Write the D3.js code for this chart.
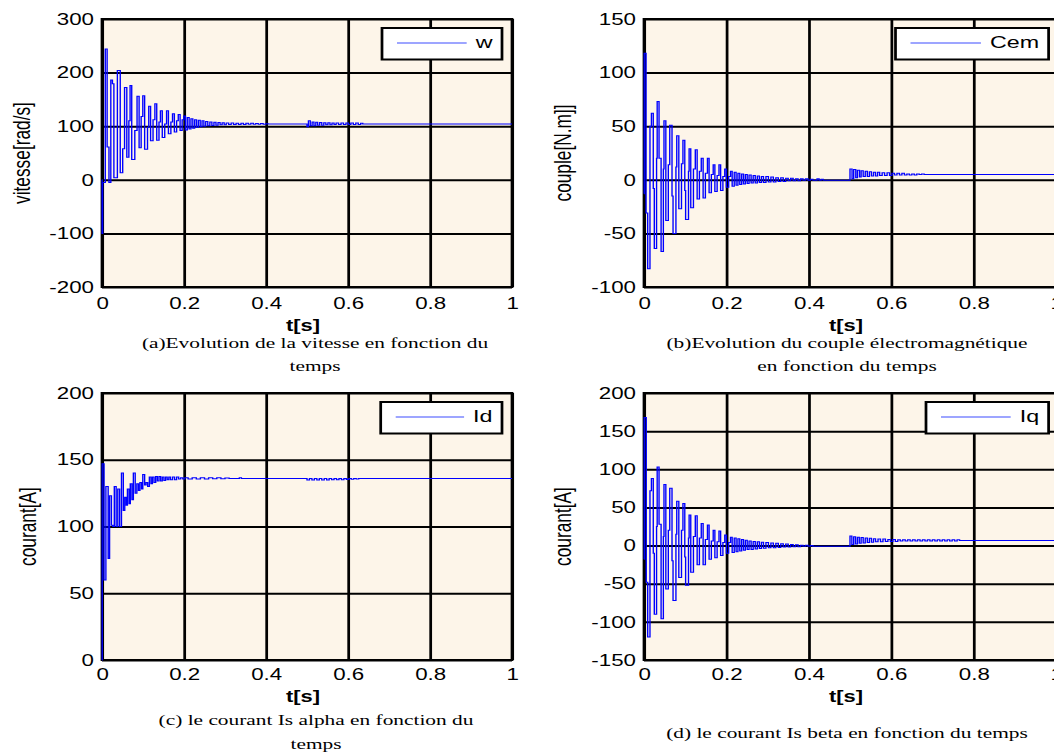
<!DOCTYPE html>
<html>
<head>
<meta charset="utf-8">
<script src="https://cdn.jsdelivr.net/npm/d3@7"></script>
<style>
  html, body { margin: 0; padding: 0; background: #fff; }
  svg { display: block; }
  text { font-family: "Liberation Sans", Arial, Helvetica, sans-serif; fill: #000; }
  text.cap { font-family: "Liberation Serif", "Times New Roman", serif; }
</style>
</head>
<body>
<svg id="chart" width="1054" height="755"></svg>
<script>
// ---- axis ticks ----
const timeTicks = [0, 0.2, 0.4, 0.6, 0.8, 1];
const speedTicks = [-200, -100, 0, 100, 200, 300];
const torqueTicks = [-100, -50, 0, 50, 100, 150];
const idTicks = [0, 50, 100, 150, 200];
const iqTicks = [-150, -100, -50, 0, 50, 100, 150, 200];

// ---- simulated signals: [t (s), value], each value held until the next sample ----
const speed = [[0,0],[0.0003,-100],[0.0015,-5],[0.008,244],[0.0125,61],[0.017,-5],[0.0215,186],[0.0255,179],[0.029,4],[0.0375,204],[0.0445,13],[0.0505,58],[0.055,172],[0.0605,42],[0.0655,110],[0.0685,176],[0.0725,38],[0.080,92],[0.0855,156],[0.0905,60],[0.0955,118],[0.0995,157],[0.104,57],[0.111,98],[0.114,137],[0.1185,73],[0.1245,112],[0.129,142],[0.1335,74],[0.139,108],[0.1425,129],[0.147,79],[0.153,104],[0.1575,129],[0.162,86],[0.168,108],[0.172,123],[0.1765,89],[0.182,110],[0.186,122],[0.1905,92],[0.1955,112],[0.1995,119],[0.2035,93],[0.208,116],[0.2125,95],[0.217,114],[0.2215,96],[0.226,112],[0.2305,98],[0.235,111],[0.2395,99],[0.244,110],[0.2485,100],[0.253,109],[0.258,101],[0.263,108],[0.268,101.5],[0.273,107.5],[0.278,102],[0.283,107],[0.288,102.5],[0.293,106.5],[0.298,102.5],[0.303,106],[0.309,103],[0.315,106],[0.321,103],[0.327,105.5],[0.333,103],[0.339,105.5],[0.345,103],[0.351,105.5],[0.357,103.5],[0.363,105.5],[0.369,103.5],[0.375,105],[0.381,103.5],[0.387,105],[0.393,103.5],[0.399,104.5],[0.405,104],[0.5,99],[0.5035,110],[0.508,101],[0.5125,108],[0.517,101],[0.5215,107.5],[0.526,102],[0.531,107],[0.536,102],[0.541,106.5],[0.546,102.5],[0.551,106.5],[0.556,102.5],[0.561,106],[0.566,103],[0.571,106],[0.577,103],[0.583,106],[0.589,103],[0.595,106],[0.601,103],[0.607,106],[0.613,103],[0.619,106],[0.625,103],[0.631,105.5],[0.636,104],[1,104]];

const torque = [[0,-13],[0.0006,118],[0.005,-31],[0.009,-83],[0.0145,50],[0.018,62],[0.0225,-8],[0.025,-64],[0.0305,20],[0.032,73],[0.0365,20],[0.0415,-67],[0.047,10],[0.0485,55],[0.053,-38],[0.059,14],[0.0625,51],[0.068,-15],[0.0705,-50],[0.0775,12],[0.0795,41],[0.0845,-27],[0.091,15],[0.0945,37],[0.099,-10],[0.101,-37],[0.108,8],[0.1095,29],[0.1135,-26],[0.12,10],[0.1245,28],[0.129,-18],[0.1345,8],[0.139,20],[0.1435,-17],[0.149,6],[0.154,20],[0.158,-12],[0.1635,5],[0.168,14],[0.172,-11],[0.1775,4],[0.182,14],[0.186,-10],[0.1915,3],[0.196,10],[0.2,-7],[0.2055,3],[0.21,8],[0.214,-6],[0.219,7],[0.2235,-5],[0.228,6],[0.2325,-4.5],[0.237,5.5],[0.2415,-4],[0.246,5],[0.2505,-3.5],[0.255,4.5],[0.26,-3],[0.265,4],[0.27,-3],[0.275,3.5],[0.28,-2.5],[0.285,3],[0.29,-2.5],[0.296,3],[0.302,-2],[0.308,2.5],[0.314,-2],[0.32,2],[0.326,-1.5],[0.332,2],[0.338,-1.5],[0.344,1.5],[0.35,-1],[0.356,1.5],[0.362,-1],[0.368,1],[0.374,-1],[0.38,1],[0.386,-0.5],[0.392,1],[0.398,-0.5],[0.404,0.5],[0.41,-0.5],[0.42,1],[0.425,-0.5],[0.43,0.5],[0.435,-0.5],[0.5,10],[0.505,1],[0.509,9.5],[0.514,2],[0.518,9],[0.523,2.5],[0.527,8.5],[0.532,3],[0.537,8],[0.542,3],[0.547,7.5],[0.552,3.5],[0.557,7],[0.562,3.5],[0.567,7],[0.572,4],[0.578,6.5],[0.584,4],[0.59,6.5],[0.596,4],[0.602,6],[0.608,4.5],[0.614,6],[0.62,4.5],[0.626,6],[0.632,4.5],[0.638,5.5],[0.644,4.5],[0.65,5.5],[0.656,4.5],[0.662,5.5],[0.668,5],[0.674,5.5],[0.68,5],[1,5]];

const currentD = [[0,0],[0.0005,147],[0.005,60],[0.0095,130],[0.015,76],[0.0185,123],[0.023,101],[0.0265,100],[0.030,130],[0.0345,100],[0.0385,128],[0.043,100],[0.0475,140],[0.052,112],[0.0555,122],[0.059,116],[0.062,128],[0.066,117],[0.069,132],[0.073,120],[0.0765,140],[0.081,125],[0.085,132],[0.089,127],[0.0925,133],[0.0965,128],[0.0995,139],[0.104,131],[0.1075,133],[0.1115,130],[0.1155,137],[0.1195,132],[0.123,137],[0.127,133],[0.131,137.5],[0.135,134],[0.139,137.5],[0.143,134],[0.147,137],[0.151,134.5],[0.155,137],[0.159,135],[0.163,137],[0.167,135],[0.172,137],[0.177,135],[0.182,137],[0.187,135.5],[0.192,136.5],[0.197,135.5],[0.202,136.5],[0.21,135.5],[0.22,136.5],[0.23,135.5],[0.24,136.5],[0.25,135.5],[0.26,136.5],[0.27,135.8],[0.28,136.5],[0.29,135.8],[0.3,136.3],[0.31,136],[0.335,136.5],[0.34,136],[0.5,134.8],[0.506,136],[0.512,134.8],[0.518,136],[0.524,134.8],[0.53,136],[0.536,134.8],[0.542,136],[0.548,134.8],[0.554,136],[0.56,135],[0.566,136],[0.572,135],[0.578,136],[0.584,135],[0.59,136],[0.596,135.2],[0.602,136],[0.608,135.3],[0.614,136],[0.62,135.5],[0.626,136],[1,136]];

const currentQ = [[0,-18],[0.0006,168],[0.0055,-48],[0.009,-120],[0.0145,72],[0.018,88],[0.0225,-10],[0.025,-90],[0.0305,25],[0.032,103],[0.0365,28],[0.0415,-96],[0.047,12],[0.0485,80],[0.053,-57],[0.059,20],[0.0625,75],[0.068,-20],[0.0705,-72],[0.0775,15],[0.0795,58],[0.0845,-42],[0.091,20],[0.0945,55],[0.099,-15],[0.101,-52],[0.108,10],[0.1095,40],[0.1135,-35],[0.12,12],[0.1245,39],[0.129,-25],[0.1345,10],[0.139,29],[0.1435,-25],[0.149,8],[0.154,27],[0.158,-18],[0.1635,6],[0.168,20],[0.172,-16],[0.1775,5],[0.182,19],[0.186,-13],[0.1915,4],[0.196,14],[0.2,-10],[0.2055,4],[0.21,11],[0.214,-9],[0.219,10],[0.2235,-8],[0.228,9],[0.2325,-7],[0.237,8],[0.2415,-6],[0.246,7],[0.2505,-5],[0.255,6],[0.26,-5],[0.265,5.5],[0.27,-4.5],[0.275,5],[0.28,-4],[0.285,4.5],[0.29,-3.5],[0.296,4],[0.302,-3],[0.308,3.5],[0.314,-3],[0.32,3],[0.326,-2.5],[0.332,2.5],[0.338,-2],[0.344,2],[0.35,-2],[0.356,1.5],[0.362,-1.5],[0.368,1],[0.374,-1.5],[0.38,0.5],[0.386,-1],[0.392,0.5],[0.398,-1],[0.404,0],[0.41,-1],[0.5,12.5],[0.5045,1.5],[0.509,11.5],[0.5135,2],[0.518,11],[0.5225,3],[0.527,10.5],[0.532,3.5],[0.537,10],[0.542,4],[0.547,9.5],[0.552,4.5],[0.557,9],[0.562,5],[0.568,8.5],[0.574,5],[0.58,8.5],[0.586,5.5],[0.592,8],[0.598,5.5],[0.604,8],[0.61,5.5],[0.616,7.5],[0.622,6],[0.628,7.5],[0.634,6],[0.64,7.5],[0.646,6],[0.652,7.5],[0.658,6],[0.664,7.5],[0.67,6],[0.676,7.5],[0.682,6],[0.688,7.5],[0.694,6],[0.7,7.5],[0.706,6],[0.712,7.5],[0.718,6],[0.724,7.5],[0.73,6],[0.736,7.5],[0.742,6],[0.748,7.5],[0.754,6],[0.76,7.5],[0.766,6.5],[1,6.5]];

// ---- layout (page pixels) ----
const SX = 1.37;            // the figure is drawn horizontally stretched
const BG = "#fdf5e9";
const LINE = "#0000ff";
const plain = d => String(d);   // ASCII hyphen for negative ticks

const panels = [
  { data: speed, name: "w", yLabel: "vitesse[rad/s]", domain: [-200, 300], ticks: speedTicks,
    l: 102, r: 512, t: 19, b: 287, yLabelX: 21.5,
    leg: { l: 382, r: 502, t: 28 }, tickY: 309, titleY: 331,
    caption: ["(a)Evolution de la vitesse en fonction du", "temps"], capX: 315, capY: [348, 371] },
  { data: torque, name: "Cem", yLabel: "couple[N.m]]", domain: [-100, 150], ticks: torqueTicks,
    l: 644, r: 1056, t: 19, b: 287, yLabelX: 562,
    leg: { l: 895.5, r: 1048.6, t: 28 }, tickY: 309, titleY: 331,
    caption: ["(b)Evolution du couple électromagnétique", "en fonction du temps"], capX: 847, capY: [348, 371] },
  { data: currentD, name: "Id", yLabel: "courant[A]", domain: [0, 200], ticks: idTicks,
    l: 102, r: 512, t: 393, b: 660, yLabelX: 27,
    leg: { l: 380.7, r: 502, t: 402 }, tickY: 680, titleY: 702,
    caption: ["(c) le courant Is alpha en fonction du", "temps"], capX: 316, capY: [725, 749] },
  { data: currentQ, name: "Iq", yLabel: "courant[A]", domain: [-150, 200], ticks: iqTicks,
    l: 644, r: 1056, t: 393, b: 660, yLabelX: 562,
    leg: { l: 926, r: 1048.6, t: 402 }, tickY: 680, titleY: 702,
    caption: ["(d) le courant Is beta en fonction du temps"], capX: 847, capY: [738] }
];

const svg = d3.select("#chart");
const root = svg.append("g").attr("transform", `scale(${SX},1)`);

panels.forEach((p, i) => {
  const x = d3.scaleLinear().domain([0, 1]).range([p.l / SX, p.r / SX]);
  const y = d3.scaleLinear().domain(p.domain).range([p.b, p.t]);
  const w = x(1) - x(0), h = p.b - p.t;
  const g = root.append("g");

  // plot background
  g.append("rect").attr("x", x(0)).attr("y", p.t).attr("width", w).attr("height", h).attr("fill", BG);

  // grid
  const gx = g.append("g").attr("transform", `translate(0,${p.b})`)
    .call(d3.axisBottom(x).tickValues(timeTicks).tickSize(-h).tickFormat(""));
  gx.select(".domain").remove();
  gx.selectAll("line").attr("stroke", "#000").attr("stroke-width", 2);
  const gy = g.append("g").attr("transform", `translate(${x(0)},0)`)
    .call(d3.axisLeft(y).tickValues(p.ticks).tickSize(-w).tickFormat(""));
  gy.select(".domain").remove();
  gy.selectAll("line").attr("stroke", "#000").attr("stroke-width", 2);

  // frame
  g.append("rect").attr("x", x(0)).attr("y", p.t).attr("width", w).attr("height", h)
    .attr("fill", "none").attr("stroke", "#000").attr("stroke-width", 2);

  // tick labels
  const lx = g.append("g").attr("transform", `translate(0,${p.b})`)
    .call(d3.axisBottom(x).tickValues(timeTicks).tickSize(0).tickFormat(plain));
  lx.select(".domain").remove();
  lx.selectAll("text").attr("y", p.tickY - p.b).attr("dy", null)
    .attr("font-size", 16.3).attr("font-family", "Liberation Sans, Arial, sans-serif").attr("fill", "#000");
  const ly = g.append("g").attr("transform", `translate(${x(0)},0)`)
    .call(d3.axisLeft(y).tickValues(p.ticks).tickSize(0).tickPadding(8 / SX).tickFormat(plain));
  ly.select(".domain").remove();
  ly.selectAll("text").attr("font-size", 16.3).attr("font-family", "Liberation Sans, Arial, sans-serif").attr("fill", "#000");

  // signal
  const clipId = "clip" + i;
  g.append("clipPath").attr("id", clipId).append("rect")
    .attr("x", x(0) - 2).attr("y", p.t - 2).attr("width", w + 4).attr("height", h + 4);
  const line = d3.line().x(d => x(d[0])).y(d => y(d[1])).curve(d3.curveStepAfter);
  g.append("path").datum(p.data).attr("clip-path", `url(#${clipId})`)
    .attr("d", line).attr("fill", "none").attr("stroke", LINE).attr("stroke-width", 1);

  // legend
  const lg = g.append("g");
  const boxH = 31.5;
  lg.append("rect").attr("x", p.leg.l / SX).attr("y", p.leg.t)
    .attr("width", (p.leg.r - p.leg.l) / SX).attr("height", boxH)
    .attr("fill", "#fff").attr("stroke", "#000").attr("stroke-width", 2);
  const lt = lg.append("text").attr("x", (p.leg.r - 9.5) / SX).attr("y", p.leg.t + 20.5)
    .attr("text-anchor", "end").attr("font-size", 17).text(p.name);
  const textStart = (p.leg.r - 9.5) / SX - lt.node().getComputedTextLength();
  lg.append("line").attr("x1", (p.leg.l + 15) / SX).attr("x2", textStart - 9 / SX)
    .attr("y1", p.leg.t + 15).attr("y2", p.leg.t + 15)
    .attr("stroke", "#3d4dff").attr("stroke-width", 1.2);

  // axis titles
  g.append("text").attr("x", ((p.l + Math.min(p.r, 1054 + 2)) / 2 - 4) / SX).attr("y", p.titleY)
    .attr("text-anchor", "middle").attr("font-size", 16).attr("font-weight", "bold").text("t[s]");
  g.append("text")
    .attr("transform", `translate(${p.yLabelX / SX},${(p.t + p.b) / 2}) rotate(-90)`)
    .attr("text-anchor", "middle").attr("dominant-baseline", "central")
    .attr("font-size", 17.3).text(p.yLabel);

  // caption
  p.caption.forEach((c, k) => {
    g.append("text").attr("class", "cap").attr("x", p.capX / SX).attr("y", p.capY[k])
      .attr("text-anchor", "middle").attr("font-size", 15.6).text(c);
  });
});
</script>
</body>
</html>
